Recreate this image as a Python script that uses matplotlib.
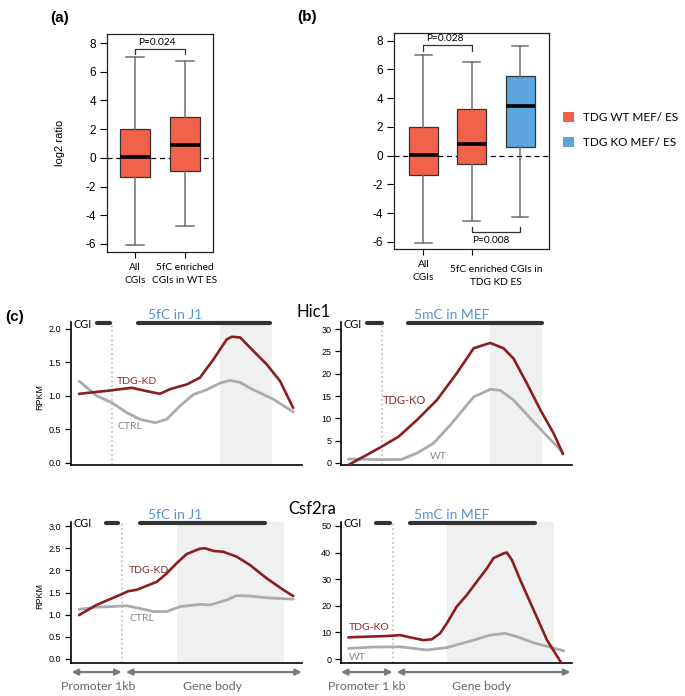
import matplotlib
matplotlib.use("Agg")
import matplotlib.pyplot as plt
from matplotlib.patches import Patch

W, H = 685, 696
fig = plt.figure(figsize=(6.85, 6.96), dpi=100)

RED_BOX = "#F2624A"
BLUE_BOX = "#5CA5DD"
RED_LINE = "#8B1E1E"
GRAY_LINE = "#ABABAB"
TITLE_BLUE = "#5A90D2"
CAL = ["Lato", "DejaVu Sans"]
ARIAL = ["Liberation Sans", "DejaVu Sans"]

# ---------------- data: panel (a) ----------------
a_labels = ["All\nCGIs", "5fC enriched\nCGIs in WT ES"]
a_whislo = [-6.05, -4.75]
a_q1 = [-1.35, -0.9]
a_med = [0.05, 0.9]
a_q3 = [2.0, 2.88]
a_whishi = [7.0, 6.75]
a_pvalue = "P=0.024"

# ---------------- data: panel (b) ----------------
b_labels = ["All\nCGIs", "5fC enriched CGIs in\nTDG KD ES"]
b_whislo = [-6.05, -4.55, -4.25]
b_q1 = [-1.35, -0.55, 0.6]
b_med = [0.05, 0.8, 3.45]
b_q3 = [2.0, 3.25, 5.55]
b_whishi = [7.0, 6.5, 7.65]
b_pvalue_top = "P=0.028"
b_pvalue_bottom = "P=0.008"
legend_labels = ["TDG WT MEF/ ES", "TDG KO MEF/ ES"]

box_yticks = [-6, -4, -2, 0, 2, 4, 6, 8]

# ---------------- data: panel (c) (x = % of plotted window) ----------------
# Hic1, 5fC in J1
h1_red_x = [3.5, 16.9, 26.3, 32.8, 38.5, 42.9, 50.1, 55.8, 61.6, 67.4, 69.6, 73.2, 78.9, 84.7, 90.5, 96.2]
h1_red_y = [1.03, 1.08, 1.12, 1.07, 1.03, 1.10, 1.17, 1.27, 1.54, 1.84, 1.88, 1.87, 1.67, 1.47, 1.22, 0.82]
h1_gray_x = [3.5, 11.1, 17.6, 24.1, 29.9, 36.4, 41.4, 47.2, 53.0, 58.7, 64.5, 68.8, 73.2, 78.9, 87.6, 96.2]
h1_gray_y = [1.22, 1.00, 0.90, 0.75, 0.65, 0.60, 0.65, 0.85, 1.02, 1.09, 1.19, 1.23, 1.20, 1.09, 0.95, 0.76]

# Hic1, 5mC in MEF
h2_red_x = [3.2, 17.6, 24.9, 32.8, 41.5, 50.1, 57.4, 60.3, 64.6, 70.4, 74.7, 80.5, 86.3, 92.1, 96.1]
h2_red_y = [-0.45, 3.66, 5.9, 9.6, 14.1, 20.1, 25.7, 26.2, 26.9, 25.7, 23.4, 17.8, 11.9, 6.6, 2.0]
h2_gray_x = [3.2, 17.6, 26.3, 32.8, 40.0, 47.3, 57.4, 64.6, 68.9, 74.7, 83.4, 96.1]
h2_gray_y = [0.9, 0.75, 0.8, 2.2, 4.4, 8.5, 14.8, 16.5, 16.3, 14.1, 9.2, 2.3]

# Csf2ra, 5fC in J1
c1_red_x = [3.5, 11.1, 16.9, 21.9, 24.8, 28.4, 31.3, 37.1, 41.4, 45.7, 50.1, 55.8, 58.0, 61.6, 65.9, 71.7, 77.5, 84.7, 91.9, 96.2]
c1_red_y = [0.99, 1.22, 1.35, 1.46, 1.53, 1.56, 1.62, 1.74, 1.93, 2.16, 2.37, 2.49, 2.50, 2.44, 2.42, 2.31, 2.12, 1.82, 1.56, 1.42]
c1_gray_x = [3.5, 11.1, 16.9, 24.1, 29.9, 35.6, 41.4, 47.2, 55.8, 60.2, 67.4, 71.7, 77.5, 84.7, 96.2]
c1_gray_y = [1.12, 1.17, 1.18, 1.20, 1.14, 1.07, 1.07, 1.18, 1.23, 1.22, 1.33, 1.43, 1.42, 1.38, 1.35]

# Csf2ra, 5mC in MEF
c2_red_x = [3.2, 11.1, 18.4, 22.7, 25.6, 29.9, 35.7, 39.3, 42.9, 45.8, 50.1, 54.5, 58.8, 63.2, 66.0, 70.4, 71.8, 74.0, 77.6, 83.4, 89.2, 95.7]
c2_red_y = [8.15, 8.4, 8.6, 8.8, 9.0, 8.15, 7.1, 7.4, 9.65, 13.4, 19.7, 24.1, 29.1, 34.1, 37.9, 39.7, 40.0, 37.2, 29.7, 18.4, 7.1, -1.9]
c2_gray_x = [3.2, 14.0, 25.6, 37.1, 45.8, 57.4, 64.6, 71.1, 76.2, 83.4, 96.4]
c2_gray_y = [4.0, 4.5, 4.6, 3.4, 4.3, 7.1, 9.0, 9.65, 8.4, 6.1, 3.1]


def fig_rect(left, right, top, bottom):
    return [left / W, 1 - bottom / H, (right - left) / W, (bottom - top) / H]


def draw_boxes(ax, whislo, q1, med, q3, whishi, colors):
    stats = [dict(whislo=a, q1=b, med=c, q3=d, whishi=e, fliers=[])
             for a, b, c, d, e in zip(whislo, q1, med, q3, whishi)]
    pos = list(range(1, len(stats) + 1))
    bp = ax.bxp(stats, positions=pos, widths=0.6, patch_artist=True, showfliers=False,
                boxprops=dict(edgecolor="#333333", linewidth=0.9),
                medianprops=dict(color="black", linewidth=2.6),
                whiskerprops=dict(color="#6E6E6E", linewidth=1.1),
                capprops=dict(color="#6E6E6E", linewidth=1.1),
                capwidths=0.35, zorder=3)
    for p, c in zip(bp["boxes"], colors):
        p.set_facecolor(c)
    ax.axhline(0, color="black", lw=0.9, ls=(0, (4, 3)), zorder=1)
    ax.set_yticks(box_yticks)
    ax.set_yticklabels([str(v) for v in box_yticks], fontfamily=ARIAL, fontsize=8.5)
    ax.tick_params(axis="y", length=5, width=0.8, pad=3)
    ax.tick_params(axis="x", length=4, width=0.8, pad=4)
    for s in ax.spines.values():
        s.set_linewidth(0.9)
        s.set_color("#222222")


# ---------- (a) ----------
axa = fig.add_axes(fig_rect(107, 213, 34, 252))
draw_boxes(axa, a_whislo, a_q1, a_med, a_q3, a_whishi, [RED_BOX, RED_BOX])
axa.set_xlim(0.44, 2.56)
axa.set_ylim(-6.56, 8.63)
axa.set_xticks([1, 2])
axa.set_xticklabels(a_labels, fontfamily=CAL, fontsize=7.3, linespacing=1.5)
axa.plot([1, 1, 2, 2], [7.25, 7.56, 7.56, 7.25], color="#333333", lw=0.9)
axa.text(1.43, 7.75, a_pvalue, ha="center", va="bottom", fontsize=7.3, fontfamily=CAL)
fig.text(60 / W, 1 - 143 / H, "log2 ratio", rotation=90, ha="center", va="center",
         fontsize=8, fontfamily=ARIAL)

# ---------- (b) ----------
axb = fig.add_axes(fig_rect(394, 549, 33, 249))
draw_boxes(axb, b_whislo, b_q1, b_med, b_q3, b_whishi, [RED_BOX, RED_BOX, BLUE_BOX])
axb.set_xlim(0.39, 3.6)
axb.set_ylim(-6.5, 8.54)
axb.set_xticks([1, 2])
axb.set_xticklabels([b_labels[0], ""], fontfamily=CAL, fontsize=7.3, linespacing=1.5)
axb.text(2.5, -0.075, b_labels[1], transform=axb.get_xaxis_transform(), ha="center",
         va="top", fontsize=7.3, fontfamily=CAL, linespacing=1.5)
axb.plot([1, 1, 2, 2], [7.3, 7.7, 7.7, 7.3], color="#333333", lw=0.9)
axb.text(1.45, 7.85, b_pvalue_top, ha="center", va="bottom", fontsize=7.3, fontfamily=CAL)
axb.plot([2, 2, 3, 3], [-5.0, -5.3, -5.3, -5.0], color="#333333", lw=0.9)
axb.text(2.4, -5.9, b_pvalue_bottom, ha="center", va="center", fontsize=7.3, fontfamily=CAL)

handles = [Patch(facecolor=RED_BOX, edgecolor="none"), Patch(facecolor=BLUE_BOX, edgecolor="none")]
fig.legend(handles, legend_labels, loc="center left", bbox_to_anchor=(558 / W, 1 - 130 / H),
           frameon=False, prop=dict(family=CAL, size=8.5), handlelength=0.95, handleheight=0.95,
           handletextpad=0.8, labelspacing=1.15, borderaxespad=0)

fig.text(50 / W, 1 - 18 / H, "(a)", fontsize=11, fontweight="bold", fontfamily=ARIAL, va="center")
fig.text(297 / W, 1 - 17 / H, "(b)", fontsize=11, fontweight="bold", fontfamily=ARIAL, va="center")
fig.text(5 / W, 1 - 317 / H, "(c)", fontsize=11, fontweight="bold", fontfamily=ARIAL, va="center")


# ---------- (c) ----------
def line_panel(rect, ylim, yticks, yticklabels, rx, ry, gx, gy, tss, shade, cgi, body,
               title, red_lab, red_pos, red_fs, gray_lab, gray_pos, arrows=None):
    ax = fig.add_axes(rect)
    ax.set_xlim(0, 100)
    ax.set_ylim(*ylim)
    ax.axvspan(shade[0], shade[1], color="#F0F0F0", zorder=0, lw=0)
    ax.axvline(tss, color="#BDBDBD", ls=(0, (1.2, 1.8)), lw=1.1, zorder=1)
    ax.plot(gx, gy, color=GRAY_LINE, lw=2.0, zorder=2, solid_capstyle="round")
    ax.plot(rx, ry, color=RED_LINE, lw=1.9, zorder=3, solid_capstyle="round")
    tr = ax.get_xaxis_transform()
    ax.plot(cgi, [0.99, 0.99], transform=tr, color="#333333", lw=3, clip_on=False,
            solid_capstyle="round")
    ax.plot(body, [0.99, 0.99], transform=tr, color="#333333", lw=3, clip_on=False,
            solid_capstyle="round")
    ax.text(1.2, 0.985, "CGI", transform=tr, ha="left", va="center", fontsize=7.8,
            fontfamily=CAL)
    ax.text(title[1], 1.05, title[0], transform=tr, ha="center", va="center", fontsize=10,
            color=TITLE_BLUE, fontfamily=CAL)
    ax.text(red_pos[0], red_pos[1], red_lab, ha="left", va="center", fontsize=red_fs,
            color="#8B2A2A", fontfamily=CAL)
    ax.text(gray_pos[0], gray_pos[1], gray_lab, ha="left", va="center", fontsize=7.5,
            color="#8A8A8A", fontfamily=CAL)
    ax.set_yticks(yticks)
    ax.set_yticklabels(yticklabels, fontfamily=ARIAL, fontsize=6.5)
    ax.set_xticks([])
    ax.tick_params(axis="y", length=4, width=0.9, pad=3)
    for s in ["top", "right"]:
        ax.spines[s].set_visible(False)
    ax.spines["left"].set_linewidth(1.2)
    ax.spines["bottom"].set_linewidth(1.2)
    if arrows is not None:
        for (x0, x1), lab, lx in arrows:
            ax.annotate("", xy=(x1, -0.062), xytext=(x0, -0.062), xycoords=tr, textcoords=tr,
                        arrowprops=dict(arrowstyle="<|-|>", color="#7A7A7A", lw=1.6,
                                        mutation_scale=9, shrinkA=0, shrinkB=0),
                        annotation_clip=False)
            ax.text(lx, -0.165, lab, transform=tr, ha="center", va="center", fontsize=8.8,
                    color="#666666", fontfamily=CAL)
    return ax


line_panel(fig_rect(71, 302, 322, 465), (-0.03, 2.1), [0, 0.5, 1.0, 1.5, 2.0],
           ["0.0", "0.5", "1.0", "1.5", "2.0"], h1_red_x, h1_red_y, h1_gray_x, h1_gray_y,
           17.6, (64.5, 86.9), (11.1, 16.9), (29.1, 86.1), ("5fC in J1", 45),
           "TDG-KD", (19.8, 1.22), 7.5, "CTRL", (20.1, 0.55))
line_panel(fig_rect(341, 572, 322, 465), (-0.45, 31.6), [0, 5, 10, 15, 20, 25, 30],
           ["0", "5", "10", "15", "20", "25", "30"], h2_red_x, h2_red_y, h2_gray_x, h2_gray_y,
           17.6, (64.6, 87.0), (11.1, 17.6), (29.2, 87.0), ("5mC in MEF", 48),
           "TDG-KO", (18.3, 14.1), 8, "WT", (38.6, 1.4))
line_panel(fig_rect(71, 302, 521.7, 663.3), (-0.1, 3.1), [0, 0.5, 1.0, 1.5, 2.0, 2.5, 3.0],
           ["0.0", "0.5", "1.0", "1.5", "2.0", "2.5", "3.0"], c1_red_x, c1_red_y, c1_gray_x,
           c1_gray_y, 22.2, (45.7, 92.2), (15.2, 20.5), (29.9, 84.0), ("5fC in J1", 45),
           "TDG-KD", (24.8, 1.99), 7.5, "CTRL", (25.3, 0.92),
           arrows=[((0.3, 21.9), "Promoter 1kb", 11.8), ((23.8, 99.9), "Gene body", 61.2)])
line_panel(fig_rect(341, 572, 521.7, 663.3), (-1.6, 51.6), [0, 10, 20, 30, 40, 50],
           ["0", "10", "20", "30", "40", "50"], c2_red_x, c2_red_y, c2_gray_x, c2_gray_y,
           22.3, (45.8, 92.3), (15.2, 21.0), (29.9, 84.1), ("5mC in MEF", 48),
           "TDG-KO", (3.2, 11.9), 7.5, "WT", (3.2, 0.6),
           arrows=[((0.0, 22.3), "Promoter 1 kb", 11.0), ((24.1, 99.3), "Gene body", 61.0)])

fig.text(40 / W, 1 - 397 / H, "RPKM", rotation=90, ha="center", va="center", fontsize=6.5,
         fontfamily=ARIAL)
fig.text(40 / W, 1 - 596 / H, "RPKM", rotation=90, ha="center", va="center", fontsize=6.5,
         fontfamily=ARIAL)
fig.text(314 / W, 1 - 312 / H, "Hic1", ha="center", va="center", fontsize=12, fontfamily=CAL)
fig.text(312 / W, 1 - 509 / H, "Csf2ra", ha="center", va="center", fontsize=12, fontfamily=CAL)

fig.savefig("out.png", dpi=100, facecolor="white")
